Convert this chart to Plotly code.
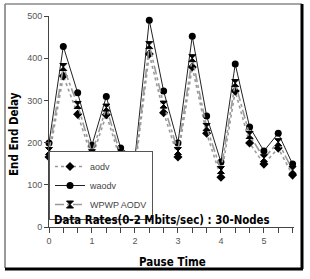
import plotly.graph_objects as go

pause_time = [0, 0.333, 0.667, 1, 1.333, 1.667, 2, 2.333, 2.667, 3, 3.333, 3.667, 4, 4.333, 4.667, 5, 5.333, 5.667]
aodv = [166, 358, 267, 164, 266, 158, 136, 410, 271, 166, 379, 222, 118, 322, 199, 149, 187, 123]
waodv = [199, 428, 318, 194, 309, 187, 164, 490, 322, 199, 452, 263, 154, 386, 237, 180, 222, 149]
wpwp_aodv = [180, 379, 289, 175, 283, 170, 148, 431, 290, 180, 400, 237, 135, 341, 218, 163, 201, 135]
series_names = ["aodv", "waodv", "WPWP AODV"]
x_ticks = [0, 1, 2, 3, 4, 5]
y_ticks = [0, 100, 200, 300, 400, 500]
title_x = "Pause Time"
title_y = "End End Delay"
note = "Data Rates(0-2 Mbits/sec) : 30-Nodes"

W, H = 310, 279
L, R, T, B = 49, 16, 16, 52
pw, ph = W - L - R, H - T - B

def px(x):
    return (x - L) / pw

def py(y):
    return (H - B - y) / ph

fig = go.Figure()
fig.add_trace(go.Scatter(x=pause_time, y=aodv, name=series_names[0], mode="lines+markers",
                         line=dict(color="#9a9a9a", width=1.6, dash="dot"),
                         marker=dict(symbol="diamond", size=7, color="black"), cliponaxis=False))
fig.add_trace(go.Scatter(x=pause_time, y=waodv, name=series_names[1], mode="lines+markers",
                         line=dict(color="#222", width=1),
                         marker=dict(symbol="circle", size=7, color="black"), cliponaxis=False))
fig.add_trace(go.Scatter(x=pause_time, y=wpwp_aodv, name=series_names[2], mode="lines+markers",
                         line=dict(color="#9a9a9a", width=1.6, dash="dashdot"),
                         marker=dict(symbol="hourglass", size=7, color="black",
                                     line=dict(color="black", width=1)), cliponaxis=False))

tickfont = dict(family="Liberation Sans", size=9, color="#555")
fig.update_xaxes(range=[0, 5.7], tickvals=x_ticks, ticks="outside", ticklen=5, tickcolor="#444",
                 showline=True, linecolor="#444", linewidth=1, showgrid=False, zeroline=False,
                 tickfont=tickfont,
                 minor=dict(dtick=1/3, tick0=0, ticks="outside", ticklen=5, tickcolor="#444"))
fig.update_yaxes(range=[0, 500], tickvals=y_ticks, ticks="outside", ticklen=4, tickcolor="#444",
                 showline=True, linecolor="#444", linewidth=1, showgrid=False, zeroline=False,
                 tickfont=tickfont)

title_font = dict(family="DejaVu Sans Condensed", size=11.5, color="black", weight="bold")
fig.add_annotation(text=title_x, xref="paper", yref="paper", x=px(172), y=py(262),
                   xanchor="center", yanchor="middle", showarrow=False, font=title_font)
fig.add_annotation(text=title_y, xref="paper", yref="paper", x=px(14), y=py(134),
                   xanchor="center", yanchor="middle", showarrow=False, textangle=-90, font=title_font)
fig.add_annotation(text=note, xref="paper", yref="paper", x=px(52), y=py(220), xanchor="left",
                   yanchor="middle", showarrow=False,
                   font=dict(family="DejaVu Sans Condensed", size=11.4, color="black", weight="bold"))

shapes = [
    dict(type="line", x0=px(5), x1=px(5), y0=py(4), y1=py(268), line=dict(color="#777", width=1.5)),
    dict(type="line", x0=px(5), x1=px(302), y0=py(4), y1=py(4), line=dict(color="#888", width=1.5)),
    dict(type="line", x0=px(302), x1=px(302), y0=py(4), y1=py(269), line=dict(color="black", width=3)),
    dict(type="line", x0=px(5), x1=px(303), y0=py(269), y1=py(269), line=dict(color="black", width=3)),
]
for s in shapes:
    s.update(xref="paper", yref="paper")
fig.update_layout(shapes=shapes)

fig.update_layout(
    width=W, height=H, margin=dict(l=L, r=R, t=T, b=B, pad=0),
    paper_bgcolor="white", plot_bgcolor="white",
    showlegend=True, hovermode=False,
    legend=dict(x=0, y=py(151), xanchor="left", yanchor="top", bgcolor="white",
                bordercolor="#555", borderwidth=1, tracegroupgap=0, itemwidth=30,
                font=dict(family="Liberation Sans", size=9, color="#444")),
)
fig.write_html("out.html", config={"displayModeBar": False, "staticPlot": True},
               post_script="document.body.style.margin='0';document.body.style.overflow='hidden';")
